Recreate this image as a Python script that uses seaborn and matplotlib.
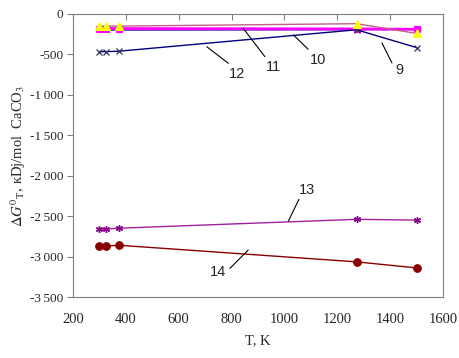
import numpy as np
import matplotlib.pyplot as plt
import seaborn as sns
import pandas as pd

# temperatures, K
T = [298, 323, 373, 1273, 1500]

# Gibbs energy, kDj/mol CaCO3
g_9_12 = [-465, -465, -460, -195, -415]
g_blue = [-200, -200, -200, -195, -190]
g_11 = [-180, -180, -180, -185, -190]
g_10 = [-150, -150, -150, -120, -240]
g_13 = [-2660, -2655, -2645, -2535, -2545]
g_14 = [-2870, -2865, -2855, -3060, -3135]

y_ticks = [0, -500, -1000, -1500, -2000, -2500, -3000, -3500]
y_tick_labels = ['0', '-500', '-1\u2009000', '-1\u2009500', '-2\u2009000', '-2\u2009500',
                 '-3\u2009000', '-3\u2009500']
x_ticks = [200, 400, 600, 800, 1000, 1200, 1400, 1600]

# curve labels: text, text position, leader start, leader end
labels = [
    ('9', (1437, -691), (1369, -358), (1407, -605)),
    ('10', (1127, -568), (1034, -259), (1090, -436)),
    ('11', (958, -650), (844, -177), (926, -527)),
    ('12', (819, -741), (706, -404), (788, -609)),
    ('13', (1084, -2173), (1015, -2556), (1055, -2288)),
    ('14', (750, -3181), (794, -3140), (863, -2914)),
]

sns.set_style('white')
plt.rcParams['font.family'] = ['Liberation Serif', 'DejaVu Serif']
plt.rcParams['mathtext.fontset'] = 'stix'

fig = plt.figure(figsize=(4.6, 3.58), dpi=100)
ax = fig.add_axes([0.1587, 0.169, 0.963 - 0.1587, 0.961 - 0.169])

asterisk = (6, 2, 0)

sns.lineplot(x=T, y=g_10, ax=ax, color='#C0608A', lw=1.0)
sns.lineplot(x=T, y=g_11, ax=ax, color='#FF00FF', lw=2.0, marker='s', markersize=5,
             markerfacecolor='#FF00FF', markeredgecolor='#FF00FF', zorder=1.5)
sns.lineplot(x=T, y=g_blue, ax=ax, color='#3A2FA0', lw=1.0, marker='o', markersize=3,
             markerfacecolor='#3A2FA0', markeredgecolor='#3A2FA0', zorder=1.4)
sns.lineplot(x=T, y=g_10, ax=ax, color='#C0608A', lw=0, marker='^', markersize=6,
             markerfacecolor='#FFFF00', markeredgecolor='#FFFF00', zorder=3)
sns.lineplot(x=T, y=g_9_12, ax=ax, color='#000080', lw=1.0, marker='x', markersize=5,
             markeredgecolor='#333355', markeredgewidth=0.9)
sns.lineplot(x=T, y=g_13, ax=ax, color='#A020A0', lw=1.0, marker=asterisk, markersize=5,
             markeredgecolor='#8B008B', markeredgewidth=1.0)
sns.lineplot(x=T, y=g_14, ax=ax, color='#8B0000', lw=1.0, marker='o', markersize=5.5,
             markerfacecolor='#8B0000', markeredgecolor='#8B0000')

for txt, pos, p0, p1 in labels:
    ax.plot([p0[0], p1[0]], [p0[1], p1[1]], color='black', lw=0.8)
    ax.text(pos[0], pos[1], txt, ha='center', va='center', fontsize=10.5,
            family=['Liberation Sans', 'DejaVu Sans'])

ax.set_xlim(200, 1600)
ax.set_ylim(-3500, 0)
ax.set_xticks(x_ticks)
ax.set_yticks(y_ticks)
ax.set_yticklabels(y_tick_labels)
ax.tick_params(axis='x', top=True, bottom=False, direction='in', length=4,
               labelbottom=True, labeltop=False, labelsize=10.5, color='#808080', pad=11)
ax.tick_params(axis='y', left=True, direction='out', length=4, labelsize=9.5,
               color='#808080', pad=3)
for sp in ax.spines.values():
    sp.set_color('#808080')
    sp.set_linewidth(0.8)

ax.set_xlabel('T, K', fontsize=10.5, labelpad=6)
ax.set_ylabel(r'$\Delta G^0{}_{\rm T}$, кDj/mol  CaCO$_3$', fontsize=10.5)
ax.yaxis.label.set_va('center')
ax.yaxis.set_label_coords(-0.148, 0.5)

plt.savefig('out.png', dpi=100)
